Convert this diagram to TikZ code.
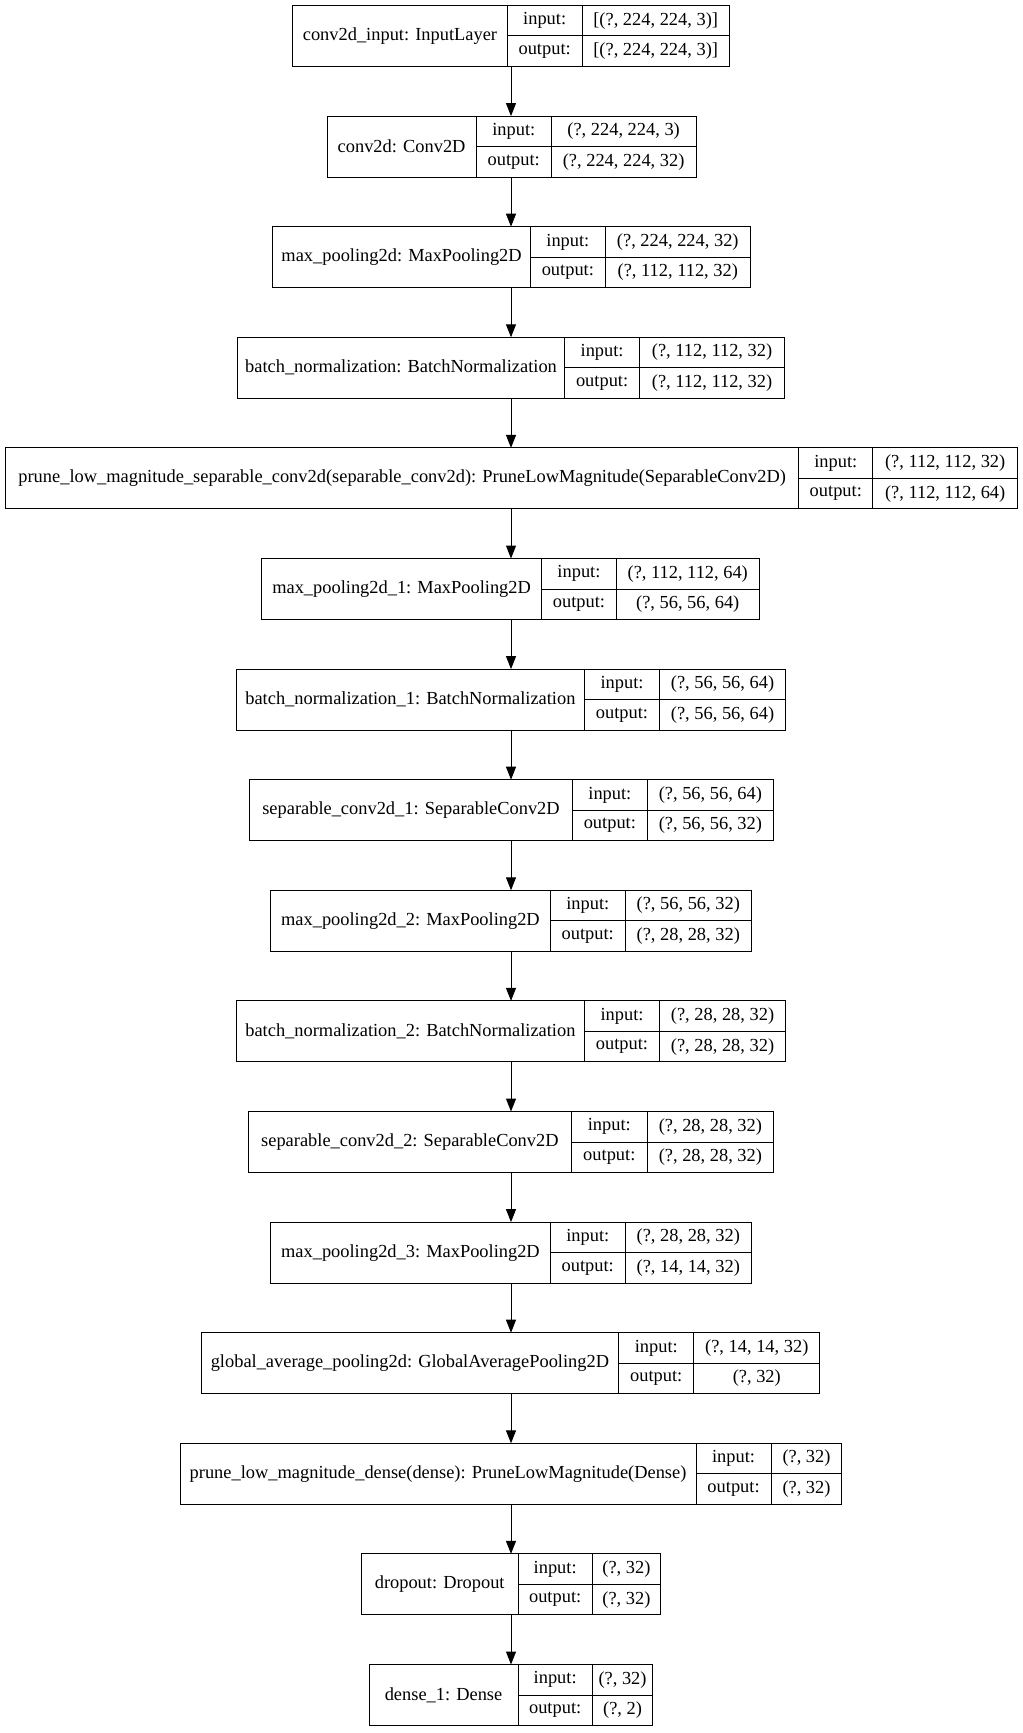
\documentclass[tikz,border=0pt]{standalone}
\usepackage{fontspec}
\setmainfont{Liberation Serif}
\usetikzlibrary{arrows.meta}
\tikzset{
  cell/.style={draw, line width=0.75pt, inner sep=0pt, outer sep=0pt, rectangle, font=\fontsize{13.8pt}{16pt}\selectfont},
  recbox/.style={inner sep=0pt, outer sep=0pt, rectangle, minimum height=45.75pt},
  flow/.style={line width=0.75pt, -{Triangle[length=9.75pt,width=7.5pt]}}
}
% #1 id, #2 top, #3 x0, #4 x1, #5 x2, #6 x3, #7 name, #8 input, #9 output
\newcommand\layerrec[9]{%
  \node[recbox, minimum width={(#6-#3)*0.75pt}] (#1) at (511,{#2+30.5}) {};
  \node[cell, minimum width={(#4-#3)*0.75pt}, minimum height=45.75pt] (#1-n) at ({(#3+#4)/2},{#2+30.5}) {\raisebox{-0.8pt}{#7}};
  \node[cell, minimum width={(#5-#4)*0.75pt}, minimum height=22.875pt] (#1-il) at ({(#4+#5)/2},{#2+15.25}) {\raisebox{-0.8pt}{input:}};
  \node[cell, minimum width={(#5-#4)*0.75pt}, minimum height=22.875pt] (#1-ol) at ({(#4+#5)/2},{#2+45.75}) {\raisebox{-0.8pt}{output:}};
  \node[cell, minimum width={(#6-#5)*0.75pt}, minimum height=22.875pt] (#1-iv) at ({(#5+#6)/2},{#2+15.25}) {\raisebox{-0.8pt}{#8}};
  \node[cell, minimum width={(#6-#5)*0.75pt}, minimum height=22.875pt] (#1-ov) at ({(#5+#6)/2},{#2+45.75}) {\raisebox{-0.8pt}{#9}};
}
\begin{document}
\begin{tikzpicture}[x=0.75pt, y=-0.75pt]
\useasboundingbox (0,0) rectangle (1023,1733);
\layerrec{r1}{5.5}{292.8}{507.1}{582.2}{729.2}{conv2d\_input: InputLayer}{[(?, 224, 224, 3)]}{[(?, 224, 224, 3)]}
\layerrec{r2}{116.1}{327.0}{476.2}{551.3}{696.0}{conv2d: Conv2D}{(?, 224, 224, 3)}{(?, 224, 224, 32)}
\layerrec{r3}{226.7}{272.9}{530.3}{605.4}{750.2}{max\_pooling2d: MaxPooling2D}{(?, 224, 224, 32)}{(?, 112, 112, 32)}
\layerrec{r4}{337.3}{237.5}{564.5}{639.7}{784.4}{batch\_normalization: BatchNormalization}{(?, 112, 112, 32)}{(?, 112, 112, 32)}
\layerrec{r5}{447.9}{5.5}{798.8}{872.8}{1017.5}{prune\_low\_magnitude\_separable\_conv2d(separable\_conv2d): PruneLowMagnitude(SeparableConv2D)}{(?, 112, 112, 32)}{(?, 112, 112, 64)}
\layerrec{r6}{558.5}{261.8}{541.4}{616.5}{759.0}{max\_pooling2d\_1: MaxPooling2D}{(?, 112, 112, 64)}{(?, 56, 56, 64)}
\layerrec{r7}{669.1}{236.4}{584.4}{659.6}{785.5}{batch\_normalization\_1: BatchNormalization}{(?, 56, 56, 64)}{(?, 56, 56, 64)}
\layerrec{r8}{779.7}{249.7}{572.3}{647.4}{773.4}{separable\_conv2d\_1: SeparableConv2D}{(?, 56, 56, 64)}{(?, 56, 56, 32)}
\layerrec{r9}{890.3}{270.7}{550.2}{625.3}{751.3}{max\_pooling2d\_2: MaxPooling2D}{(?, 56, 56, 32)}{(?, 28, 28, 32)}
\layerrec{r10}{1000.9}{236.4}{584.4}{659.6}{785.5}{batch\_normalization\_2: BatchNormalization}{(?, 28, 28, 32)}{(?, 28, 28, 32)}
\layerrec{r11}{1111.5}{248.6}{571.2}{647.4}{773.4}{separable\_conv2d\_2: SeparableConv2D}{(?, 28, 28, 32)}{(?, 28, 28, 32)}
\layerrec{r12}{1222.1}{270.7}{550.2}{625.3}{751.3}{max\_pooling2d\_3: MaxPooling2D}{(?, 28, 28, 32)}{(?, 14, 14, 32)}
\layerrec{r13}{1332.7}{201.1}{618.7}{693.8}{819.8}{global\_average\_pooling2d: GlobalAveragePooling2D}{(?, 14, 14, 32)}{(?, 32)}
\layerrec{r14}{1443.3}{180.1}{696.0}{771.1}{841.9}{prune\_low\_magnitude\_dense(dense): PruneLowMagnitude(Dense)}{(?, 32)}{(?, 32)}
\layerrec{r15}{1553.9}{361.3}{518.1}{592.2}{660.7}{dropout: Dropout}{(?, 32)}{(?, 32)}
\layerrec{r16}{1664.5}{369.0}{518.1}{592.2}{652.9}{dense\_1: Dense}{(?, 32)}{(?, 2)}
\foreach \a/\b in {r1/r2,r2/r3,r3/r4,r4/r5,r5/r6,r6/r7,r7/r8,r8/r9,r9/r10,r10/r11,r11/r12,r12/r13,r13/r14,r14/r15,r15/r16}
  \draw[flow] (\a) -- (\b);
\end{tikzpicture}
\end{document}
